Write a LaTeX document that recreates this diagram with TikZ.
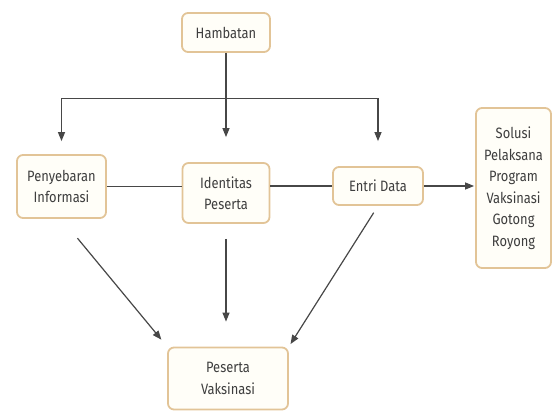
\documentclass[tikz,border=0pt]{standalone}
\usepackage{fontspec}
\setmainfont{Fira Sans}[FakeStretch=0.86]
\usetikzlibrary{arrows.meta, positioning}

\definecolor{boxline}{HTML}{E2C497}
\definecolor{boxfill}{HTML}{FFFEF8}
\definecolor{textgrey}{HTML}{3E3E3E}
\definecolor{linegrey}{HTML}{474747}

\begin{document}
\begin{tikzpicture}[x=1pt, y=-1pt,
        box/.style={rectangle, draw=boxline, fill=boxfill, rounded corners=6pt,
                    line width=1.8pt, align=center, text=textgrey, inner sep=1pt,
                    font=\fontsize{15}{21.5}\selectfont},
        arrow/.style={-{Triangle[width=7pt, length=9pt]}, line width=1.2pt, draw=linegrey},
        link/.style={line width=1.2pt, draw=linegrey},
    ]
    \useasboundingbox (0, 0) rectangle (552, 412);

    % Hambatan (atas)
    \node[box, minimum width=88pt, minimum height=39pt] (hamb) at (226, 32.5) {Hambatan};

    % tiga faktor (tengah)
    \node[box, minimum width=89pt, minimum height=63pt] (pen) at (61.5, 186.5) {Penyebaran\\Informasi};
    \node[box, minimum width=87pt, minimum height=60pt] (iden) at (226, 193) {Identitas\\Peserta};
    \node[box, minimum width=90pt, minimum height=38pt] (entri) at (378, 186) {Entri Data};

    % Solusi (kanan)
    \node[box, minimum width=75pt, minimum height=160pt] (sol) at (513.5, 188)
        {Solusi\\Pelaksana\\Program\\Vaksinasi\\Gotong\\Royong};

    % Peserta Vaksinasi (bawah)
    \node[box, minimum width=120pt, minimum height=62pt] (pes) at (228, 378.5) {Peserta\\Vaksinasi};

    % cabang dari Hambatan
    \coordinate[below=46pt of hamb.south] (bar);
    \draw[arrow, shorten >=25pt] (hamb.south) -- (iden.north);
    \draw[arrow, shorten >=13pt] (bar) -| (pen.north);
    \draw[arrow, shorten >=25pt] (bar) -| (entri.north);

    % garis penghubung
    \draw[link] (pen.east) -- (pen.east -| iden.west);
    \draw[link] (iden.east |- entri.west) -- (entri.west);
    \draw[arrow, shorten >=1pt] (entri.east) -- (entri.east -| sol.west);

    % panah ke Peserta Vaksinasi
    \draw[arrow, shorten <=25pt, shorten >=9pt] (pen.south) -- (pes.north west);
    \draw[arrow, shorten <=15pt, shorten >=25pt] (iden.south) -- (iden.south |- pes.north);
    \draw[arrow, shorten <=8pt, shorten >=3pt] (entri.south) -- (pes.north east);

\end{tikzpicture}
\end{document}
